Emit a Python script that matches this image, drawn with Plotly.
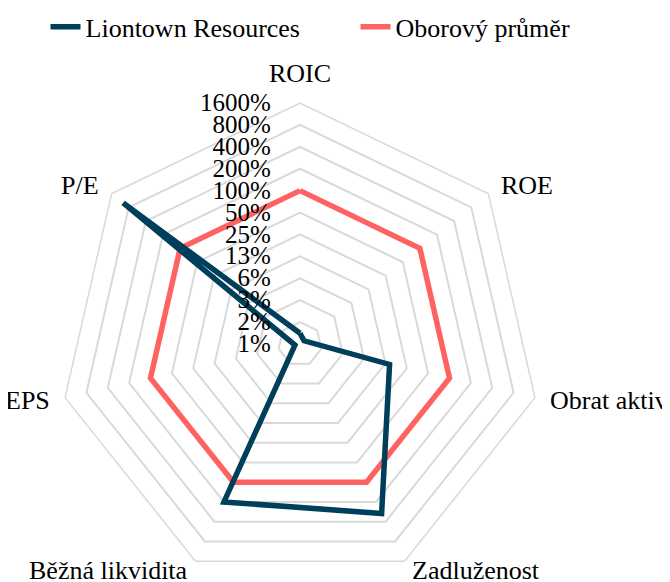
import math
import plotly.graph_objects as go

categories = ["ROIC", "ROE", "Obrat aktiv", "Zadluženost", "Běžná likvidita", "EPS", "P/E"]
liontown = [1.10, 0.92, 14.3, 300, 200, 0.92, 1000]  # %
industry = [100, 100, 100, 100, 100, 100, 100]  # %
tick_values = [0.78125, 1.5625, 3.125, 6.25, 12.5, 25, 50, 100, 200, 400, 800, 1600]
tick_labels = ["1%", "2%", "3%", "6%", "13%", "25%", "50%", "100%", "200%", "400%", "800%", "1600%"]

FONT = "Liberation Serif, Times New Roman, serif"
DARK = "#003f5c"
RED = "#ff6361"
GRID = "#d9d9d9"

W, H = 670, 582
DOM_X = [51 / W, 533 / W]  # horizontal extent of the polar area (plot area spans full width)

theta = categories + categories[:1]

fig = go.Figure()
fig.add_trace(go.Scatterpolar(
    r=industry + industry[:1], theta=theta, mode="lines", name="Oborový průměr",
    line=dict(color=RED, width=5.5)))
fig.add_trace(go.Scatterpolar(
    r=liontown + liontown[:1], theta=theta, mode="lines", name="Liontown Resources",
    line=dict(color=DARK, width=5.5)))

# category labels placed just outside the outer polygon vertices
LABEL_PAD = 13
annotations = []
n = len(categories)
cx = (DOM_X[0] + DOM_X[1]) / 2
hx = (DOM_X[1] - DOM_X[0]) / 2
for i, name in enumerate(categories):
    a = 2 * math.pi * i / n  # clockwise from top
    sx, sy = math.sin(a), math.cos(a)
    if abs(sx) < 0.1:
        xa, ya = "center", "bottom"
    else:
        xa, ya = ("left" if sx > 0 else "right"), "middle"
    annotations.append(dict(
        text=name, xref="paper", yref="paper",
        x=cx + hx * sx, y=0.5 + 0.5 * sy,
        xshift=LABEL_PAD * sx, yshift=LABEL_PAD * sy + (2 if sy < -0.8 else 0),
        xanchor=xa, yanchor=ya, showarrow=False,
        font=dict(size=26, family=FONT, color="black")))

fig.update_layout(
    width=W, height=H,
    margin=dict(l=0, r=0, t=95, b=5, autoexpand=False),
    paper_bgcolor="white",
    font=dict(family=FONT, color="black"),
    showlegend=True,
    legend=dict(orientation="h", traceorder="reversed", xref="paper", yref="paper",
                x=0.056, y=1.158, xanchor="left", yanchor="middle",
                entrywidth=265, entrywidthmode="pixels",
                font=dict(size=26, family=FONT, color="black")),
    annotations=annotations,
    polar=dict(
        domain=dict(x=DOM_X, y=[0, 1]),
        bgcolor="white",
        gridshape="linear",
        radialaxis=dict(type="log", range=[math.log10(tick_values[0]), math.log10(tick_values[-1])],
                        tickvals=tick_values, ticktext=tick_labels, angle=90, tickangle=90,
                        side="counterclockwise",
                        showline=False, gridcolor=GRID, gridwidth=1.5,
                        ticks="outside", ticklen=20, tickcolor="rgba(0,0,0,0)",
                        tickfont=dict(size=25, family=FONT, color="black")),
        angularaxis=dict(rotation=90, direction="clockwise", showgrid=False,
                         linecolor=GRID, linewidth=1.5, ticks="", showticklabels=False),
    ),
)

fig.write_html("out.html")
